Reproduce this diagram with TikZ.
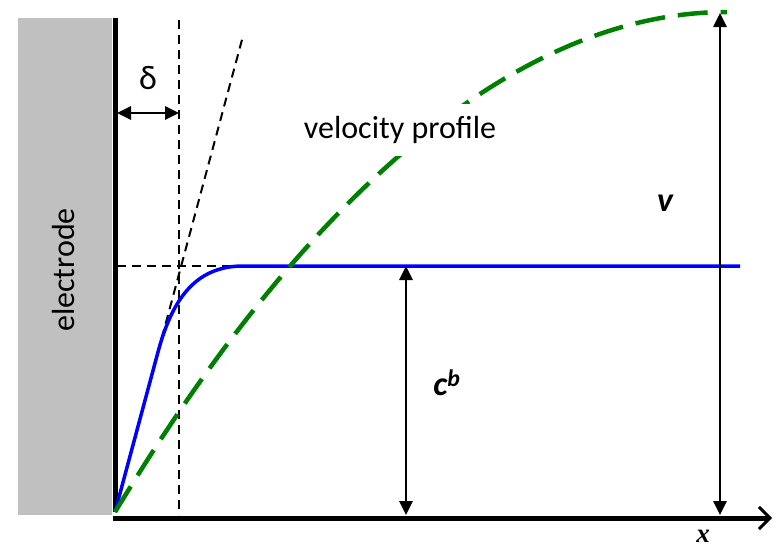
\documentclass[tikz,border=0pt]{standalone}
\usepackage{fontspec}
\setmainfont{Carlito}
\newfontfamily\serifit{Liberation Serif}
\usetikzlibrary{arrows.meta}
\definecolor{electrodegray}{HTML}{C0C0C0}
\definecolor{profilegreen}{HTML}{008000}
\tikzset{
    wall/.style={line width=5pt},
    guide/.style={line width=2pt, dash pattern=on 9pt off 6pt},
    dimarrow/.style={line width=2.6pt, {Triangle[length=14pt,width=13pt]}-{Triangle[length=14pt,width=13pt]}},
    lbl/.style={font=\fontsize{32}{36}\selectfont},
    sym/.style={font=\bfseries\itshape\fontsize{34}{36}\selectfont}
  }

\begin{document}
\begin{tikzpicture}[x=1pt,y=-1pt]
    \useasboundingbox (0,0) rectangle (774,552);

    % electrode and axes
    \fill[electrodegray] (18,18) rectangle (112,515);
    \node[lbl, rotate=90] (electrode) at (64,270) {electrode};
    \coordinate (o) at (115,512);
    \coordinate (top) at (115,18);
    \coordinate (xstart) at (113,518);
    \coordinate (xend) at (772,518);
    \draw[wall] (o) -- (top);
    \draw[wall, -{Straight Barb[length=11pt,width=22pt,line width=3pt]}] (xstart) -- (xend);
    \node[font=\serifit\bfseries\itshape\fontsize{27}{30}\selectfont, inner sep=0pt, text depth=0pt, anchor=south] (xlabel) at (703,543) {x};

    % diffusion layer
    \coordinate (dtop) at (179,20);
    \coordinate (dbot) at (179,515);
    \coordinate (tanend) at (243,36);
    \coordinate (hstart) at (117,266);
    \coordinate (hend) at (243,266);
    \draw[guide] (dtop) -- (dbot);
    \draw[guide] (o) -- (tanend);
    \draw[guide] (hstart) -- (hend);

    % concentration profile
    \coordinate (cend) at (740,266);
    \draw[blue, line width=3.5pt] (o) -- (158,352)
      .. controls (172,300) and (195,266) .. (hend) -- (cend);

    % velocity profile
    \coordinate (vtop) at (727,12);
    \draw[profilegreen, line width=4.5pt, dash pattern=on 30pt off 13pt]
      (o) parabola[bend at end] (vtop);
    \node[lbl, fill=white, inner xsep=6pt, inner ysep=12pt] (vlabel) at (400,130) {velocity profile};

    % dimensions
    \coordinate (dl) at (117,113);
    \coordinate (dr) at (179,113);
    \draw[dimarrow] (dl) -- (dr);
    \node[lbl, font=\fontsize{34}{36}\selectfont] (delta) at (148,78) {δ};

    \coordinate (cbtop) at (406,266);
    \coordinate (cbbot) at (406,515);
    \draw[dimarrow] (cbbot) -- (cbtop);
    \node[sym] (cb) at (447,383) {c\textsuperscript{b}};

    \coordinate (vatop) at (720,13);
    \coordinate (vabot) at (720,515);
    \draw[dimarrow] (vabot) -- (vatop);
    \node[sym] (v) at (665,203) {v};
  \end{tikzpicture}
\end{document}
